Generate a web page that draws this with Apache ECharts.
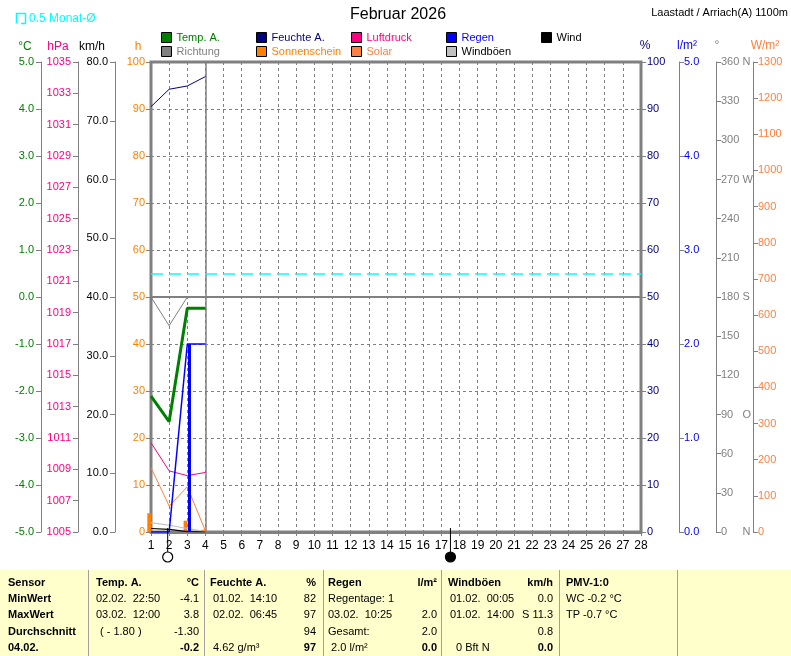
<!DOCTYPE html>
<html><head><meta charset="utf-8">
<script src="https://cdn.jsdelivr.net/npm/echarts@6/dist/echarts.min.js"></script>
<style>html,body{margin:0;padding:0;background:#fff;}#c{width:791px;height:656px;}</style>
</head><body><div id="c"></div>
<script>
// ---------- data ----------
const days = [1, 2, 3, 4];
const tempA = [-2.11, -2.65, -0.24, -0.24];          // °C
const feuchte = [90.5, 94.2, 94.9, 96.9];             // %
const luftdruck = [1010.7, 1008.9, 1008.6, 1008.8];   // hPa
const regenSum = [0, 0, 2.0, 2.0];                    // l/m² cumulative
const regenDay = [0, 0, 2.0, 0];                      // l/m² daily
const wind = [0.6, 0.45, 0.05, 0];                    // km/h
const windboeen = [1.6, 1.15, 0.6, 0.05];             // km/h
const richtung = [180, 158, 180];                     // °
const sonnenschein = [4.0, 0, 2.4, 0.5];              // h
const solar = [178, 72, 125, 3];                      // W/m²
const monatMittel = 0.5;                              // °C
const currentDay = 4;
const moonDays = [1.92, 17.5];
const moonFull = [1, 0];
const hPaTicks = [1005,1007,1009,1011,1013,1015,1017,1019,1021,1023,1025,1027,1029,1031,1033,1035];
const dirLetters = {0: 'N', 90: 'O', 180: 'S', 270: 'W', 360: 'N'};

const tableRowsLabels = ['Sensor', 'MinWert', 'MaxWert', 'Durchschnitt', '04.02.'];
const tempCol = ['Temp. A.', '02.02.  22:50', '03.02.  12:00', '( - 1.80 )', ''];
const tempVal = ['°C', '-4.1', '3.8', '-1.30', '-0.2'];
const feuchteCol = ['Feuchte A.', '01.02.  14:10', '02.02.  06:45', '', '4.62 g/m³'];
const feuchteVal = ['%', '82', '97', '94', '97'];
const regenCol = ['Regen', 'Regentage: 1', '03.02.  10:25', 'Gesamt:', ' 2.0 l/m²'];
const regenVal = ['l/m²', '', '2.0', '2.0', '0.0'];
const boeenCol = ['Windböen', '01.02.  00:05', '01.02.  14:00', '', '0 Bft N'];
const boeenVal = ['km/h', '0.0', 'S 11.3', '0.8', '0.0'];
const pmvCol = ['PMV-1:0', 'WC -0.2 °C', 'TP -0.7 °C', '', ''];

// ---------- helpers ----------
const FONT = '"Liberation Sans", Arial, sans-serif';
const GRAY = '#808080';
const zip = a => days.slice(0, a.length).map((d, i) => [d, a[i]]);
const plain = v => String(v);

function yAx(opt) {
  return {
    type: 'value', gridIndex: 0, position: opt.pos, offset: opt.offset,
    min: opt.min, max: opt.max, interval: opt.interval,
    axisLine: {show: opt.line !== false, onZero: false, lineStyle: {color: GRAY, width: 1}},
    axisTick: Object.assign({show: true, length: 5, lineStyle: {color: GRAY}}, opt.tick || {}),
    axisLabel: Object.assign({color: opt.color, fontSize: 11, fontFamily: FONT, margin: opt.margin || 7,
      showMinLabel: true, showMaxLabel: true, formatter: plain}, opt.label || {}),
    splitLine: opt.split || {show: false}
  };
}

const yAxes = [
  // 0: h (Sonnenschein)
  yAx({pos: 'left', offset: 0, min: 0, max: 100, interval: 10, color: '#ff8000', line: false, margin: 6,
       split: {show: true, lineStyle: {color: GRAY, type: [3, 3], width: 1}}}),
  // 1: km/h
  yAx({pos: 'left', offset: 36, min: 0, max: 80, interval: 10, color: '#000',
       label: {formatter: v => v.toFixed(1)}}),
  // 2: hPa
  yAx({pos: 'left', offset: 73, min: 1005, max: 1035, color: '#ff0080',
       label: {customValues: hPaTicks}, tick: {customValues: hPaTicks}}),
  // 3: °C
  yAx({pos: 'left', offset: 110, min: -5, max: 5, interval: 1, color: '#008000',
       label: {formatter: v => v.toFixed(1)}}),
  // 4: %
  yAx({pos: 'right', offset: 0, min: 0, max: 100, interval: 10, color: '#000080', line: false, margin: 6}),
  // 5: l/m²
  yAx({pos: 'right', offset: 38, min: 0, max: 5, interval: 1, color: '#0000ff', margin: 5,
       label: {formatter: v => v.toFixed(1)}}),
  // 6: °
  yAx({pos: 'right', offset: 75, min: 0, max: 360, interval: 30, color: GRAY, margin: 5,
       label: {formatter: v => dirLetters[v] !== undefined ? `{n|${v}}{d|${dirLetters[v]}}` : `{n|${v}}`,
               rich: {n: {width: 21.5, color: GRAY, fontSize: 11, fontFamily: FONT}, d: {color: GRAY, fontSize: 11, fontFamily: FONT}}}}),
  // 7: W/m²
  yAx({pos: 'right', offset: 112, min: 0, max: 1300, interval: 100, color: '#ff8040', margin: 5}),
  // 8: moon strip
  {type: 'value', gridIndex: 1, min: 0, max: 1, show: false}
];

const legendItems = [
  ['Temp. A.', 161, 32, '#008000'], ['Feuchte A.', 256, 32, '#000080'], ['Luftdruck', 351, 32, '#ff0080'],
  ['Regen', 446, 32, '#0000ff'], ['Wind', 541, 32, '#000'],
  ['Richtung', 161, 46, GRAY], ['Sonnenschein', 256, 46, '#ff8000'], ['Solar', 351, 46, '#ff8040'],
  ['Windböen', 446, 46, '#000']
];

function lineS(name, yIdx, data, color, width, extra) {
  return Object.assign({
    name, type: 'line', xAxisIndex: 0, yAxisIndex: yIdx, data: zip(data),
    symbol: 'none', showSymbol: false, lineStyle: {color, width}, itemStyle: {color},
    z: 5, animation: false, silent: true
  }, extra || {});
}

const series = [
  // reference lines
  {name: 'ref', type: 'line', xAxisIndex: 0, yAxisIndex: 0, data: [], z: 1, animation: false, silent: true,
   markLine: {symbol: 'none', silent: true, animation: false, label: {show: false},
     data: [
       {yAxis: 50, lineStyle: {color: GRAY, width: 2, type: 'solid'}},
       {xAxis: currentDay, lineStyle: {color: GRAY, width: 1.5, type: 'solid'}}
     ]}},
  {name: 'mittel', type: 'line', xAxisIndex: 0, yAxisIndex: 3, data: [], z: 2, animation: false, silent: true,
   markLine: {symbol: 'none', silent: true, animation: false, label: {show: false},
     data: [{yAxis: monatMittel, lineStyle: {color: '#00ffff', width: 1.5, type: [12, 6]}}]}},
  {name: 'Sonnenschein', type: 'bar', xAxisIndex: 0, yAxisIndex: 0, data: zip(sonnenschein), barWidth: 4,
   itemStyle: {color: '#ff8000'}, z: 4, animation: false, silent: true},
  lineS('Windböen', 1, windboeen, '#c0c0c0', 1.2),
  lineS('Wind', 1, wind, '#000', 1.2),
  lineS('Richtung', 6, richtung, GRAY, 1),
  lineS('Solar', 7, solar, '#ff8040', 1),
  lineS('Luftdruck', 2, luftdruck, '#ff0080', 1),
  lineS('Regen', 5, regenSum, '#0000ff', 1.5),
  {name: 'Regen', type: 'bar', xAxisIndex: 0, yAxisIndex: 5, data: zip(regenDay), barWidth: 3,
   itemStyle: {color: '#0000ff'}, z: 6, animation: false, silent: true},
  lineS('Feuchte A.', 4, feuchte, '#000080', 1),
  lineS('Temp. A.', 3, tempA, '#008000', 3, {z: 7}),
  // moon phases
  {name: 'moon', type: 'custom', xAxisIndex: 1, yAxisIndex: 8,
   data: moonDays.map((d, i) => [d, moonFull[i]]), animation: false, silent: true, z: 8,
   renderItem: (params, api) => {
     const top = api.coord([api.value(0), 1]);
     const c = api.coord([api.value(0), 0]);
     const full = api.value(1) === 1;
     return {type: 'group', children: [
       {type: 'line', shape: {x1: top[0], y1: top[1] - 4, x2: top[0], y2: c[1] - 5}, style: {stroke: '#000', lineWidth: 1}},
       {type: 'circle', shape: {cx: c[0], cy: c[1], r: 5}, style: {fill: full ? '#fff' : '#000', stroke: '#000', lineWidth: 1.2}}
     ]};
   }}
];

// ---------- graphics: titles, units, table ----------
const g = [];
const txt = (text, x, y, o) => g.push(Object.assign({type: 'text', x, y, silent: true,
  style: Object.assign({text, fill: '#000', font: `11px ${FONT}`, textAlign: 'left', textVerticalAlign: 'middle'}, o || {})}));

txt('Februar 2026', 398, 15, {font: `16px ${FONT}`, textAlign: 'center'});
txt('Laastadt / Arriach(A) 1100m', 788, 13, {textAlign: 'right'});
g.push({type: 'polyline', silent: true, shape: {points: [[21, 23.5], [25.5, 23.5], [25.5, 13.5], [16.5, 13.5], [16.5, 23.5]]},
  style: {stroke: '#00ffff', lineWidth: 1.5, fill: null}});
txt('0.5 Monat-Ø', 29, 19, {fill: '#00ffff', font: `12px ${FONT}`});

[['°C', 25, '#008000'], ['hPa', 58, '#ff0080'], ['km/h', 92, '#000'], ['h', 138, '#ff8000']]
  .forEach(([t, x, c]) => txt(t, x, 47, {fill: c, textAlign: 'center', font: `12px ${FONT}`}));
[['%', 645, '#000080'], ['l/m²', 687, '#0000ff'], ['°', 717, GRAY], ['W/m²', 765, '#ff8040']]
  .forEach(([t, x, c]) => txt(t, x, 46, {fill: c, textAlign: 'center', font: `12px ${FONT}`}));

// table
g.push({type: 'rect', silent: true, shape: {x: 0, y: 570, width: 791, height: 86}, style: {fill: '#ffffcc'}});
[88, 204, 323, 441, 559, 677].forEach(x =>
  g.push({type: 'line', silent: true, shape: {x1: x + 0.5, y1: 570, x2: x + 0.5, y2: 656}, style: {stroke: '#a0a0a0', lineWidth: 1}}));
const rowY = [583, 599, 615, 632, 648];
const B = `bold 11px ${FONT}`;
tableRowsLabels.forEach((t, i) => txt(t, 8, rowY[i], {font: B}));
const addCol = (arr, x, align, boldRows, dx) => arr.forEach((t, i) => {
  if (!t) return;
  txt(t, x + ((dx && dx[i]) || 0), rowY[i], {textAlign: align, font: boldRows.includes(i) ? B : `11px ${FONT}`});
});
addCol(tempCol, 96, 'left', [0], [0, 0, 0, 4, 0]);
addCol(tempVal, 199, 'right', [0, 4]);
addCol(feuchteCol, 210, 'left', [0], [0, 3, 3, 0, 3]);
addCol(feuchteVal, 316, 'right', [0, 4]);
addCol(regenCol, 328, 'left', [0]);
addCol(regenVal, 437, 'right', [0, 4]);
addCol(boeenCol, 448, 'left', [0], [0, 2, 2, 0, 8]);
addCol(boeenVal, 553, 'right', [0, 4]);
addCol(pmvCol, 566, 'left', [0]);

const option = {
  animation: false,
  backgroundColor: '#fff',
  textStyle: {fontFamily: FONT},
  grid: [
    {left: 151, right: 150, top: 62, bottom: 124, show: true, borderColor: GRAY, borderWidth: 3, backgroundColor: 'transparent'},
    {left: 151, right: 150, top: 532, height: 25}
  ],
  legend: legendItems.map(([n, x, y, c]) => ({
    data: [n], left: x, top: y, padding: 0, itemGap: 0, itemWidth: 10, itemHeight: 10, icon: 'rect',
    selectedMode: false, itemStyle: {borderColor: '#000', borderWidth: 1},
    textStyle: {color: c, fontSize: 11, fontFamily: FONT, padding: [0, 0, 0, 0]}
  })),
  xAxis: [
    {type: 'value', gridIndex: 0, min: 1, max: 28, interval: 1,
     axisLine: {show: true, onZero: false, lineStyle: {color: GRAY, width: 3}},
     axisTick: {show: true, length: 4, lineStyle: {color: GRAY}},
     axisLabel: {color: '#000', fontSize: 12, fontFamily: FONT, margin: 8, showMinLabel: true, showMaxLabel: true, formatter: plain},
     splitLine: {show: true, lineStyle: {color: GRAY, type: [3, 3], width: 1}}},
    {type: 'value', gridIndex: 1, min: 1, max: 28, show: false}
  ],
  yAxis: yAxes,
  series,
  graphic: g
};

const chart = echarts.init(document.getElementById('c'), null, {renderer: 'canvas'});
chart.setOption(option);
</script>
</body></html>
